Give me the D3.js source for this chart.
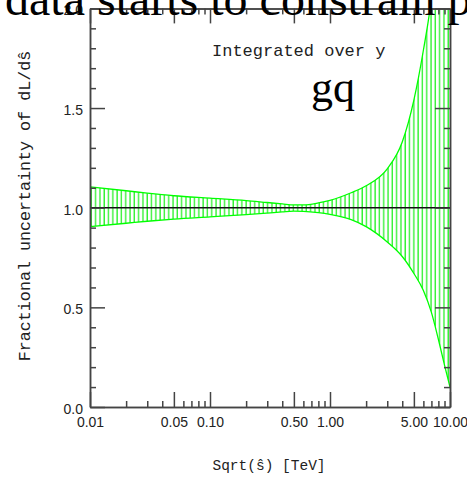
<!DOCTYPE html>
<html>
<head>
<meta charset="utf-8">
<script src="https://cdn.jsdelivr.net/npm/d3@7"></script>
<style>
    body { margin: 0; background: #fff; }
    svg { display: block; }
    .tick text { font-family: "Liberation Sans", Arial, sans-serif; font-size: 14px; fill: #222; }
    .tick line, .domain { stroke: #444; stroke-width: 1.5; }
    .tt { font-family: "Liberation Mono", monospace; fill: #222; }
</style>
</head>
<body>
<svg id="canvas"></svg>
<script>
// band: sqrt(s-hat) in TeV, upper and lower fractional uncertainty
let sqrtS = [0.01, 0.02, 0.03, 0.05, 0.1, 0.2, 0.3, 0.4, 0.5, 0.6, 0.8, 1.0, 1.5, 2, 3, 4, 5, 6, 7, 8, 9, 10];
let upperBand = [1.105, 1.085, 1.073, 1.060, 1.048, 1.036, 1.026, 1.019, 1.014, 1.014, 1.024, 1.037, 1.075, 1.11, 1.195, 1.33, 1.54, 1.79, 2.05, 2.4, 2.8, 3.2];
let lowerBand = [0.905, 0.922, 0.932, 0.943, 0.954, 0.965, 0.973, 0.979, 0.983, 0.982, 0.975, 0.966, 0.940, 0.905, 0.828, 0.755, 0.67, 0.585, 0.475, 0.34, 0.21, 0.10];
let centralValue = 1.0;

// ticks
let xTicksMajor = [0.01, 0.05, 0.1, 0.5, 1, 5, 10];
let xTicksMinor = [0.02, 0.03, 0.04, 0.06, 0.07, 0.08, 0.09, 0.2, 0.3, 0.4, 0.6, 0.7, 0.8, 0.9, 2, 3, 4, 6, 7, 8, 9];
let yTicksMajor = [0, 0.5, 1.0, 1.5, 2.0];
let yTicksMinor = [0.1, 0.2, 0.3, 0.4, 0.6, 0.7, 0.8, 0.9, 1.1, 1.2, 1.3, 1.4, 1.6, 1.7, 1.8, 1.9];

let width = 467;
let height = 482;
let padL = 90, padR = 450, padT = 8.4, padB = 407;

let canvas = d3.select('#canvas');
canvas.attr('width', width);
canvas.attr('height', height);

let xScale = d3.scaleLog()
    .domain([0.01, 10])
    .range([padL, padR]);
let yScale = d3.scaleLinear()
    .domain([0, 2])
    .range([padB, padT]);

// hatching + clip
let defs = canvas.append('defs');
defs.append('clipPath')
    .attr('id', 'plotclip')
    .append('rect')
    .attr('x', padL).attr('y', padT)
    .attr('width', padR - padL).attr('height', padB - padT);
let pat = defs.append('pattern')
    .attr('id', 'hatch')
    .attr('patternUnits', 'userSpaceOnUse')
    .attr('width', 4.3)
    .attr('height', 10);
pat.append('line')
    .attr('x1', 1).attr('x2', 1)
    .attr('y1', 0).attr('y2', 10)
    .attr('stroke', '#00ee00')
    .attr('stroke-width', 1.1);

let band = sqrtS.map((s, i) => ({ s: s, hi: upperBand[i], lo: lowerBand[i] }));

let plot = canvas.append('g').attr('clip-path', 'url(#plotclip)');

let area = d3.area()
    .x(d => xScale(d.s))
    .y0(d => yScale(d.lo))
    .y1(d => yScale(d.hi))
    .curve(d3.curveMonotoneX);

plot.append('path')
    .datum(band)
    .attr('d', area)
    .attr('fill', 'url(#hatch)');

let edgeLine = (key) => d3.line()
    .x(d => xScale(d.s))
    .y(d => yScale(d[key]))
    .curve(d3.curveMonotoneX);

['hi', 'lo'].forEach(k => {
    plot.append('path')
        .datum(band)
        .attr('d', edgeLine(k))
        .attr('fill', 'none')
        .attr('stroke', '#00ff00')
        .attr('stroke-width', 1.3);
});

// central line
plot.append('line')
    .attr('x1', padL).attr('x2', padR)
    .attr('y1', yScale(centralValue)).attr('y2', yScale(centralValue))
    .attr('stroke', '#111')
    .attr('stroke-width', 1.5);

// axes (ticks point inward)
let drawAxes = () => {
    let fmtX = d3.format('.2f');
    let fmtY = d3.format('.1f');

    canvas.append('g')
        .attr('transform', `translate(0, ${padB})`)
        .call(d3.axisBottom(xScale).tickValues(xTicksMinor).tickSizeInner(-6).tickSizeOuter(0).tickFormat(''));
    canvas.append('g')
        .attr('transform', `translate(0, ${padB})`)
        .call(d3.axisBottom(xScale).tickValues(xTicksMajor).tickSizeInner(-15).tickSizeOuter(0).tickPadding(10).tickFormat(fmtX));

    canvas.append('g')
        .attr('transform', `translate(0, ${padT})`)
        .call(d3.axisTop(xScale).tickValues(xTicksMinor).tickSizeInner(-6).tickSizeOuter(0).tickFormat(''));
    canvas.append('g')
        .attr('transform', `translate(0, ${padT})`)
        .call(d3.axisTop(xScale).tickValues(xTicksMajor).tickSizeInner(-15).tickSizeOuter(0).tickFormat(''));

    canvas.append('g')
        .attr('transform', `translate(${padL}, 0)`)
        .call(d3.axisLeft(yScale).tickValues(yTicksMinor).tickSizeInner(-6).tickSizeOuter(0).tickFormat(''));
    canvas.append('g')
        .attr('transform', `translate(${padL}, 0)`)
        .call(d3.axisLeft(yScale).tickValues(yTicksMajor).tickSizeInner(-15).tickSizeOuter(0).tickPadding(7).tickFormat(fmtY))
        .selectAll('text').attr('dy', '0.45em');

    canvas.append('g')
        .attr('transform', `translate(${padR}, 0)`)
        .call(d3.axisRight(yScale).tickValues(yTicksMinor).tickSizeInner(-6).tickSizeOuter(0).tickFormat(''));
    canvas.append('g')
        .attr('transform', `translate(${padR}, 0)`)
        .call(d3.axisRight(yScale).tickValues(yTicksMajor).tickSizeInner(-15).tickSizeOuter(0).tickFormat(''));

    canvas.selectAll('.domain').attr('stroke', '#444').attr('stroke-width', 1.5);
}
drawAxes();

// texts
canvas.append('text')
    .attr('class', 'tt')
    .attr('x', 212).attr('y', 56)
    .attr('font-size', 17)
    .text('Integrated over y');

canvas.append('text')
    .attr('x', 311).attr('y', 102)
    .attr('font-family', '"Liberation Serif", "Times New Roman", serif')
    .attr('font-size', 44)
    .attr('fill', '#000')
    .text('gq');

canvas.append('text')
    .attr('class', 'tt')
    .attr('text-anchor', 'middle')
    .attr('x', 269).attr('y', 470)
    .attr('font-size', 14.5)
    .text('Sqrt(\u015D) [TeV]');

canvas.append('text')
    .attr('class', 'tt')
    .attr('text-anchor', 'middle')
    .attr('transform', 'translate(30, 206) rotate(-90)')
    .attr('font-size', 16.7)
    .text('Fractional uncertainty of dL/d\u015D');

// big caption cut at the top
canvas.append('text')
    .attr('x', 5).attr('y', 15)
    .attr('font-family', '"Liberation Serif", "Times New Roman", serif')
    .attr('font-size', 48)
    .attr('fill', '#000')
    .text('data starts to constrain parton luminosities');
</script>
</body>
</html>
